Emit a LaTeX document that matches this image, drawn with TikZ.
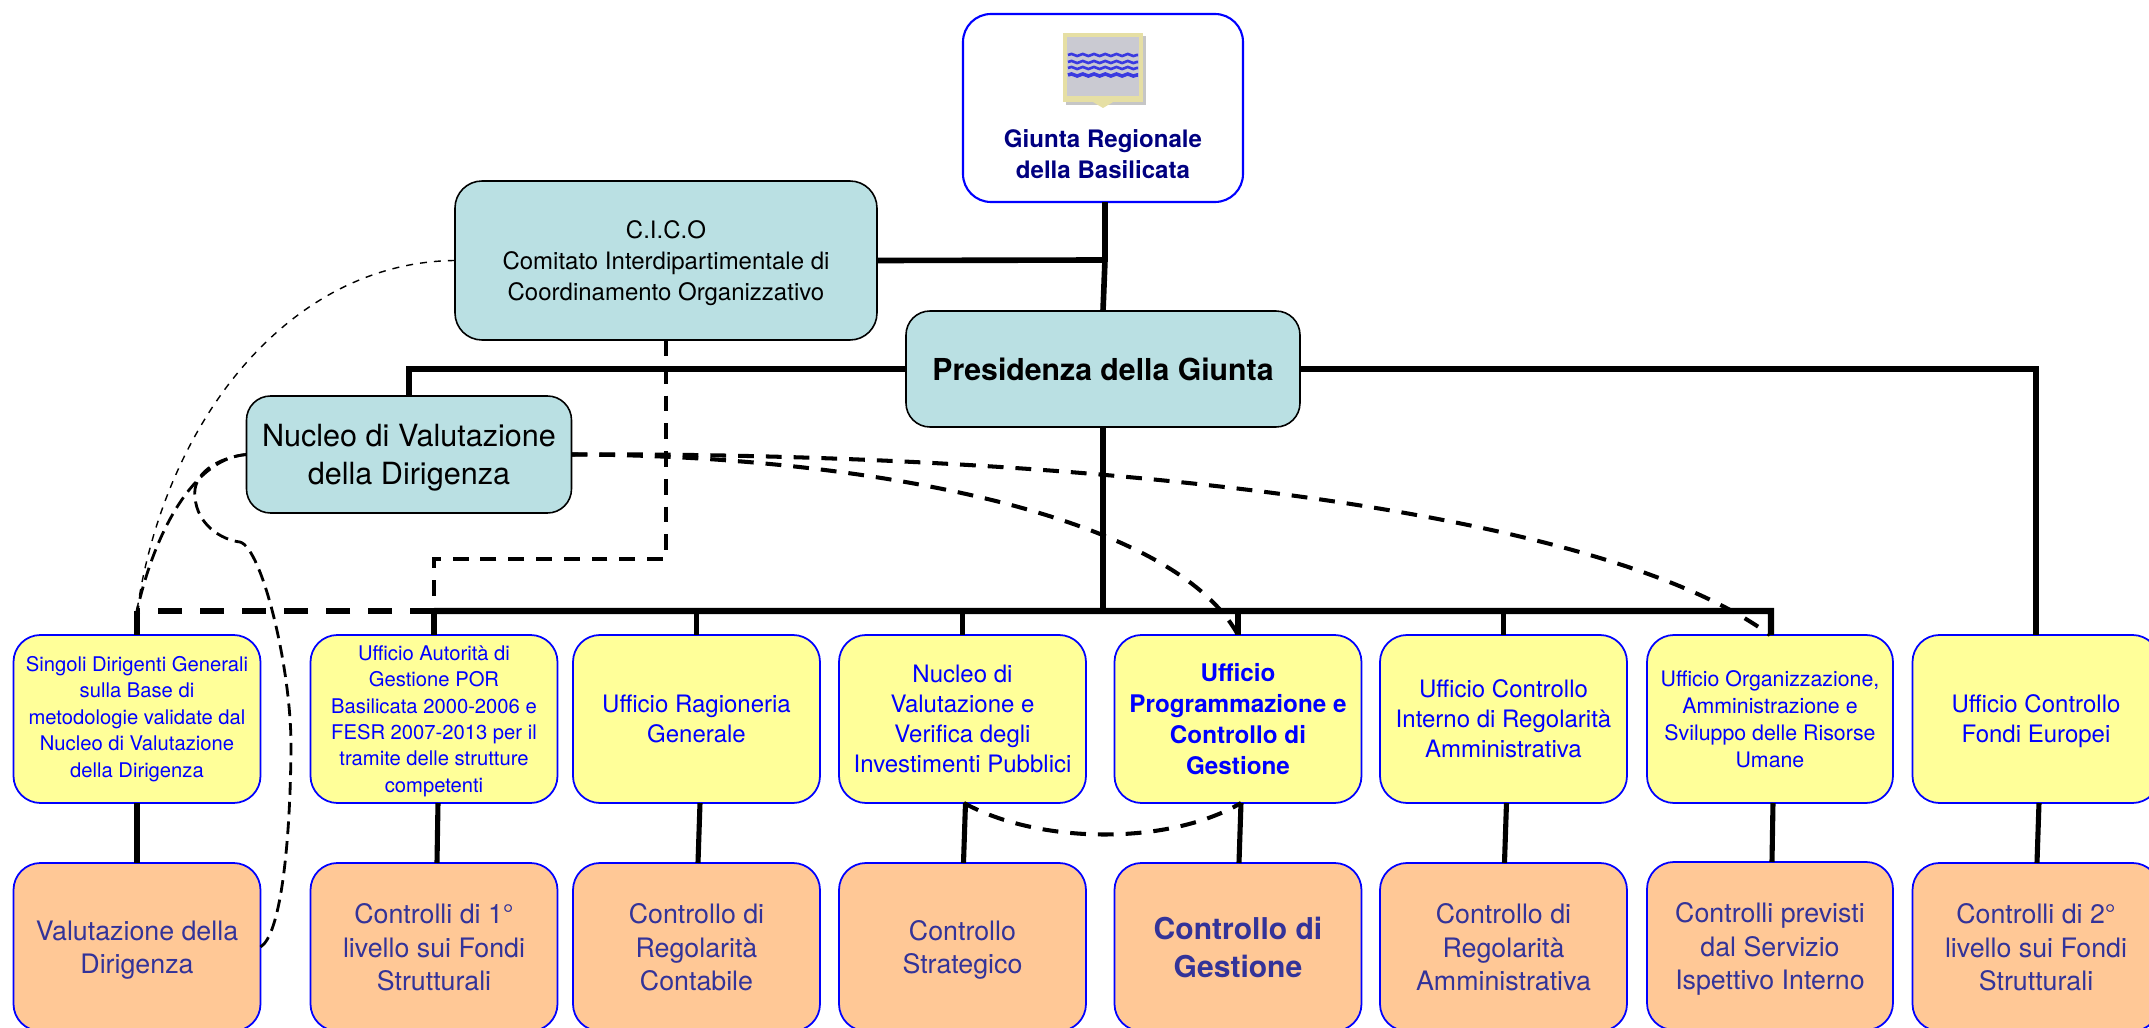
\documentclass[tikz,border=0pt]{standalone}
\usepackage{fontspec}
\setmainfont{TeX Gyre Heros}
\usetikzlibrary{decorations.pathmorphing}
\definecolor{tealfill}{HTML}{BAE0E3}
\definecolor{yellowfill}{HTML}{FFFF99}
\definecolor{orangefill}{HTML}{FFC896}
\definecolor{orangetext}{HTML}{333399}
\definecolor{navytext}{HTML}{000080}
\definecolor{shieldframe}{HTML}{E6DFA4}
\definecolor{shieldgrey}{HTML}{CACAD2}
\definecolor{shieldwave}{HTML}{3A3AE0}
\tikzset{
	plainbox/.style={rectangle,align=center,inner sep=0pt,outer sep=0pt},
	topbox/.style={plainbox,draw=blue,line width=0.6pt,fill=white,rounded corners=0.28cm,minimum width=2.8cm,minimum height=1.88cm},
	tealbox/.style={plainbox,text depth=0pt,draw=black,line width=0.45pt,fill=tealfill,rounded corners=0.24cm},
	yellowsmall/.style={plainbox,draw=blue,line width=0.5pt,fill=yellowfill,text=blue,rounded corners=0.27cm,minimum width=2.47cm,minimum height=1.68cm,font=\fontsize{5.75}{7.5}\selectfont},
	yellowbox/.style={yellowsmall,text depth=0pt,font=\fontsize{6.83}{8.54}\selectfont},
	orangebox/.style={plainbox,text depth=0pt,draw=blue,line width=0.5pt,fill=orangefill,text=orangetext,rounded corners=0.27cm,minimum width=2.47cm,minimum height=1.68cm,font=\fontsize{7.62}{9.4}\selectfont},
	trunk/.style={line width=1.6pt},
	stem/.style={line width=1.45pt},
	thindash/.style={line width=0.4pt,dash pattern=on 2pt off 2pt},
	middash/.style={line width=0.8pt,dash pattern=on 3.6pt off 2pt},
	widedash/.style={line width=1.15pt,dash pattern=on 4.5pt off 3.4pt},
	busdash/.style={line width=1.75pt,dash pattern=on 6.83pt off 5.12pt},
	wave/.style={line width=0.75pt,shieldwave,decorate,decoration={snake,amplitude=0.3pt,segment length=3.2pt}}
}
\begin{document}
\begin{tikzpicture}
	\path[use as bounding box,clip] (0,0) rectangle (21.49,-10.28);
	\coordinate (junct) at (11.05,-2.60);
	\coordinate (busl) at (1.37,-6.11);
	\coordinate (busm) at (4.34,-6.11);
	\coordinate (busr) at (17.71,-6.11);
	\coordinate (buscenter) at (11.03,-6.11);
	\coordinate (cicobend) at (6.66,-5.59);

	\node (giunta) at (11.03,-1.08)[topbox] {};
	\node (giuntatxt) at (11.03,-1.54)[plainbox,text=navytext,font=\fontsize{6.85}{8.82}\selectfont\bfseries] {Giunta Regionale\\della Basilicata};
	\fill[gray!45] (10.66,-0.36) rectangle (11.46,-1.05);
	\fill[shieldframe] (10.63,-0.33) rectangle (11.43,-1.02);
	\fill[shieldframe] (10.93,-1.02) -- (11.03,-1.08) -- (11.13,-1.02) -- cycle;
	\fill[shieldgrey] (10.67,-0.37) rectangle (11.39,-0.96);
	\draw[wave] (10.68,-0.55) -- (11.38,-0.55);
	\draw[wave] (10.68,-0.62) -- (11.38,-0.62);
	\draw[wave] (10.68,-0.68) -- (11.38,-0.68);
	\draw[wave,line width=1pt] (10.68,-0.75) -- (11.38,-0.75);

	\node (cico) at (6.66,-2.605)[tealbox,rounded corners=0.27cm,minimum width=4.22cm,minimum height=1.59cm,font=\fontsize{6.83}{8.7}\selectfont] {C.I.C.O\\Comitato Interdipartimentale di\\Coordinamento Organizzativo};
	\node (pres) at (11.03,-3.69)[tealbox,minimum width=3.94cm,minimum height=1.16cm,font=\fontsize{8.6}{10.5}\selectfont\bfseries] {Presidenza della Giunta};
	\node (nucleo) at (4.09,-4.545)[tealbox,minimum width=3.25cm,minimum height=1.17cm,font=\fontsize{8.7}{10.8}\selectfont] {Nucleo di Valutazione\\della Dirigenza};

	\node (y1) at (1.37,-7.19)[yellowsmall] {Singoli Dirigenti Generali\\sulla Base di\\metodologie validate dal\\Nucleo di Valutazione\\della Dirigenza};
	\node (y2) at (4.34,-7.19)[yellowsmall,text depth=-1.1pt] {Ufficio Autorità di\\Gestione POR\\Basilicata 2000-2006 e\\FESR 2007-2013 per il\\tramite delle strutture\\competenti};
	\node (y3) at (6.965,-7.19)[yellowbox] {Ufficio Ragioneria\\Generale};
	\node (y4) at (9.625,-7.19)[yellowbox] {Nucleo di\\Valutazione e\\Verifica degli\\Investimenti Pubblici};
	\node (y5) at (12.38,-7.19)[yellowbox,font=\fontsize{6.9}{8.9}\selectfont\bfseries] {Ufficio\\Programmazione e\\Controllo di\\Gestione};
	\node (y6) at (15.035,-7.19)[yellowbox] {Ufficio Controllo\\Interno di Regolarità\\Amministrativa};
	\node (y7) at (17.70,-7.19)[yellowsmall,minimum width=2.46cm,font=\fontsize{6.07}{7.7}\selectfont] {Ufficio Organizzazione,\\Amministrazione e\\Sviluppo delle Risorse\\Umane};
	\node (y8) at (20.36,-7.19)[yellowbox] {Ufficio Controllo\\Fondi Europei};

	\node (o1) at (1.37,-9.47)[orangebox] {Valutazione della\\Dirigenza};
	\node (o2) at (4.34,-9.47)[orangebox] {Controlli di 1°\\livello sui Fondi\\Strutturali};
	\node (o3) at (6.965,-9.47)[orangebox] {Controllo di\\Regolarità\\Contabile};
	\node (o4) at (9.625,-9.47)[orangebox] {Controllo\\Strategico};
	\node (o5) at (12.38,-9.47)[orangebox,font=\fontsize{8.55}{10.8}\selectfont\bfseries] {Controllo di\\Gestione};
	\node (o6) at (15.035,-9.47)[orangebox] {Controllo di\\Regolarità\\Amministrativa};
	\node (o7) at (17.70,-9.46)[orangebox,minimum width=2.46cm] {Controlli previsti\\dal Servizio\\Ispettivo Interno};
	\node (o8) at (20.36,-9.47)[orangebox] {Controlli di 2°\\livello sui Fondi\\Strutturali};

	\draw[trunk,line width=1.9pt] ([xshift=0.02cm]giunta.south) -- (junct);
	\draw[trunk] (cico.east) -- (junct);
	\draw[trunk] (junct) -- (pres.north);
	\draw[trunk] (pres.west) -| (nucleo.north);
	\draw[trunk] (pres.east) -| (y8.north);
	\draw[trunk] (pres.south) -- (buscenter);
	\draw[trunk,line width=1.75pt] (busm) -- (busr) -- ([xshift=0.01cm]y7.north);
	\draw[busdash] (busm) -- (busl);
	\draw[stem] (busl) -- (y1.north);
	\draw[stem] (busm) -- (y2.north);
	\draw[stem] (y3.north|-busm) -- (y3.north);
	\draw[stem] (y4.north|-busm) -- (y4.north);
	\draw[stem] (y5.north|-busm) -- (y5.north);
	\draw[stem] (y6.north|-busm) -- (y6.north);

	\draw[stem] (y1.south) -- (o1.north);
	\draw[stem] ([xshift=0.04cm]y2.south) -- ([xshift=0.03cm]o2.north);
	\draw[stem] ([xshift=0.035cm]y3.south) -- ([xshift=0.015cm]o3.north);
	\draw[stem] ([xshift=0.03cm]y4.south) -- ([xshift=0.01cm]o4.north);
	\draw[stem] ([xshift=0.03cm]y5.south) -- ([xshift=0.01cm]o5.north);
	\draw[stem] ([xshift=0.03cm]y6.south) -- ([xshift=0.01cm]o6.north);
	\draw[stem] ([xshift=0.03cm]y7.south) -- ([xshift=0.02cm]o7.north);
	\draw[stem] ([xshift=0.03cm]y8.south) -- ([xshift=0.01cm]o8.north);

	\draw[thindash] (cico.west) .. controls (2.90,-2.62) and (1.65,-4.20) .. (busl);
	\draw[middash] (nucleo.west) .. controls (1.95,-4.58) and (1.55,-5.30) .. (busl);
	\draw[middash] (nucleo.west) .. controls (2.15,-4.58) and (1.92,-4.75) .. (1.95,-4.97) .. controls (1.97,-5.25) and (2.22,-5.40) .. (2.40,-5.42) .. controls (2.62,-5.48) and (2.92,-6.70) .. (2.91,-7.50) .. controls (2.90,-8.50) and (2.80,-9.35) .. (o1.east);
	\draw[widedash] (nucleo.east) .. controls (8.50,-4.55) and (11.70,-5.10) .. (y5.north);
	\draw[widedash] (nucleo.east) .. controls (10.00,-4.52) and (15.80,-4.95) .. (y7.north);
	\draw[widedash] ([xshift=0.015cm]y4.south) .. controls (10.40,-8.45) and (11.70,-8.45) .. ([xshift=0.03cm]y5.south);
	\draw[widedash] (cico.south) -- (cicobend) -| (busm);
\end{tikzpicture}
\end{document}
